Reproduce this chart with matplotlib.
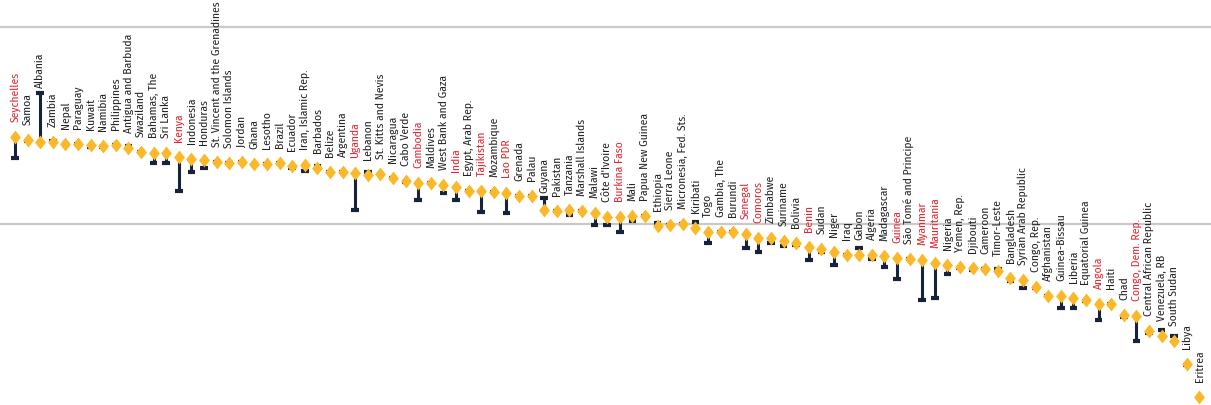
import matplotlib
matplotlib.use("Agg")
import matplotlib.pyplot as plt
from matplotlib import font_manager

# ---------------------------------------------------------------------------
# data
# ---------------------------------------------------------------------------
countries = [
    "Seychelles", "Samoa", "Albania", "Zambia", "Nepal", "Paraguay", "Kuwait",
    "Namibia", "Philippines", "Antigua and Barbuda", "Swaziland", "Bahamas, The",
    "Sri Lanka", "Kenya", "Indonesia", "Honduras", "St. Vincent and the Grenadines",
    "Solomon Islands", "Jordan", "Ghana", "Lesotho", "Brazil", "Ecuador",
    "Iran, Islamic Rep.", "Barbados", "Belize", "Argentina", "Uganda", "Lebanon",
    "St. Kitts and Nevis", "Nicaragua", "Cabo Verde", "Cambodia", "Maldives",
    "West Bank and Gaza", "India", "Egypt, Arab Rep.", "Tajikistan", "Mozambique",
    "Lao PDR", "Grenada", "Palau", "Guyana", "Pakistan", "Tanzania",
    "Marshall Islands", "Malawi", "Côte d'Ivoire", "Burkina Faso", "Mali",
    "Papua New Guinea", "Ethiopia", "Sierra Leone", "Micronesia, Fed. Sts.",
    "Kiribati", "Togo", "Gambia, The", "Burundi", "Senegal", "Comoros", "Zimbabwe",
    "Suriname", "Bolivia", "Benin", "Sudan", "Niger", "Iraq", "Gabon", "Algeria",
    "Madagascar", "Guinea", "São Tomé and Principe", "Myanmar", "Mauritania",
    "Nigeria", "Yemen, Rep.", "Djibouti", "Cameroon", "Timor-Leste", "Bangladesh",
    "Syrian Arab Republic", "Congo, Rep.", "Afghanistan", "Guinea-Bissau", "Liberia",
    "Equatorial Guinea", "Angola", "Haiti", "Chad", "Congo, Dem. Rep.",
    "Central African Republic", "Venezuela, RB", "South Sudan", "Libya", "Eritrea",
]

# diamond value
score = [
    61.1, 60.7, 60.4, 60.4, 60.2, 60.2, 60.0, 59.9, 60.0, 59.6, 59.2, 59.0,
    59.0, 58.5, 58.3, 58.1, 57.9, 57.8, 57.9, 57.6, 57.6, 57.7, 57.4, 57.5,
    57.1, 56.6, 56.6, 56.5, 56.2, 56.3, 55.8, 55.4, 55.2, 55.2, 55.0, 54.7,
    54.2, 54.2, 54.0, 53.9, 53.5, 53.6, 51.8, 51.6, 51.8, 51.7, 51.4, 50.9,
    50.9, 51.0, 51.0, 49.8, 49.9, 50.0, 49.5, 49.0, 49.0, 49.0, 48.7, 48.2,
    48.2, 47.9, 47.6, 47.1, 46.8, 46.4, 46.1, 46.1, 46.1, 45.9, 45.7, 45.6,
    45.4, 45.0, 44.8, 44.5, 44.4, 44.3, 44.0, 43.2, 42.9, 42.0, 40.9, 40.8,
    40.6, 40.4, 39.8, 39.8, 38.5, 38.3, 36.4, 35.8, 35.1, 32.2, 28.1,
]

# value at the end of the bar
other = [
    58.4, 60.5, 66.6, 60.5, 60.2, 60.2, 59.8, 59.8, 60.0, 59.9, 59.2, 57.7,
    57.7, 54.2, 56.6, 57.1, 57.9, 57.8, 57.9, 57.6, 57.6, 57.7, 57.1, 56.7,
    57.4, 56.6, 56.6, 51.8, 56.6, 56.3, 55.8, 55.3, 53.0, 55.2, 53.9, 53.0,
    54.2, 51.5, 54.0, 51.4, 53.5, 53.6, 53.3, 51.6, 51.1, 51.7, 49.9, 49.9,
    49.0, 50.4, 51.0, 50.1, 49.9, 50.0, 50.2, 47.6, 49.0, 49.0, 46.9, 46.4,
    47.6, 47.2, 47.3, 45.4, 46.4, 44.8, 46.1, 47.0, 45.5, 44.5, 43.0, 45.6,
    40.4, 40.6, 43.7, 44.4, 44.2, 44.3, 44.3, 42.8, 41.9, 41.9, 40.9, 39.3,
    39.3, 40.2, 37.8, 39.8, 38.2, 35.1, 36.2, 36.5, 35.8, 32.1, 28.0,
]

highlighted = [
    "Seychelles", "Kenya", "Uganda", "Cambodia", "India", "Tajikistan", "Lao PDR",
    "Burkina Faso", "Senegal", "Comoros", "Benin", "Guinea", "Myanmar",
    "Mauritania", "Angola", "Congo, Dem. Rep.",
]

gridlines = [50, 75]

# ---------------------------------------------------------------------------
# style
# ---------------------------------------------------------------------------
available = {f.name for f in font_manager.fontManager.ttflist}
if "Fira Sans Condensed" in available:
    label_font = dict(family=["Fira Sans Condensed", "DejaVu Sans"], fontsize=8.3)
else:
    label_font = dict(family=["DejaVu Sans"], fontstretch="condensed", fontsize=7.2)

GOLD = "#FBB829"
NAVY = "#16233A"
RED = "#E1262F"
TEXT = "#222222"
GRID = "#C9C9C9"

px_per_unit = 7.88  # vertical pixels per data unit

# ---------------------------------------------------------------------------
# plot
# ---------------------------------------------------------------------------
fig = plt.figure(figsize=(12.11, 4.05), dpi=100)
ax = fig.add_axes([0, 0, 1, 1])

n = len(countries)
xs = list(range(n))

for g in gridlines:
    ax.axhline(g, color=GRID, lw=1.6, zorder=0)

# bars between the two values with a cap at the far end
for x, s, o in zip(xs, score, other):
    ax.plot([x, x], [s, o], color=NAVY, lw=2.2, solid_capstyle="butt", zorder=2)
    ax.plot([x - 0.3, x + 0.3], [o, o], color=NAVY, lw=3.0,
            solid_capstyle="butt", zorder=2)

diamond = [(0, 1), (0.78, 0), (0, -1), (-0.78, 0), (0, 1)]
ax.plot(xs, score, linestyle="none", marker=diamond, markersize=10,
        color=GOLD, markeredgewidth=0, zorder=3)

# country labels above the marks
for x, s, o, name in zip(xs, score, other, countries):
    base = max(s + 15 / px_per_unit, o + 5 / px_per_unit)
    color = RED if name in highlighted else TEXT
    ax.text(x, base, name, rotation=90, ha="center", va="bottom",
            color=color, **label_font)

ax.set_xlim(-15 / 12.6, (1211 - 15) / 12.6)
ax.set_ylim(50 - (405 - 224) / px_per_unit, 50 + 224 / px_per_unit)
ax.axis("off")

fig.savefig("out.png", dpi=100)
